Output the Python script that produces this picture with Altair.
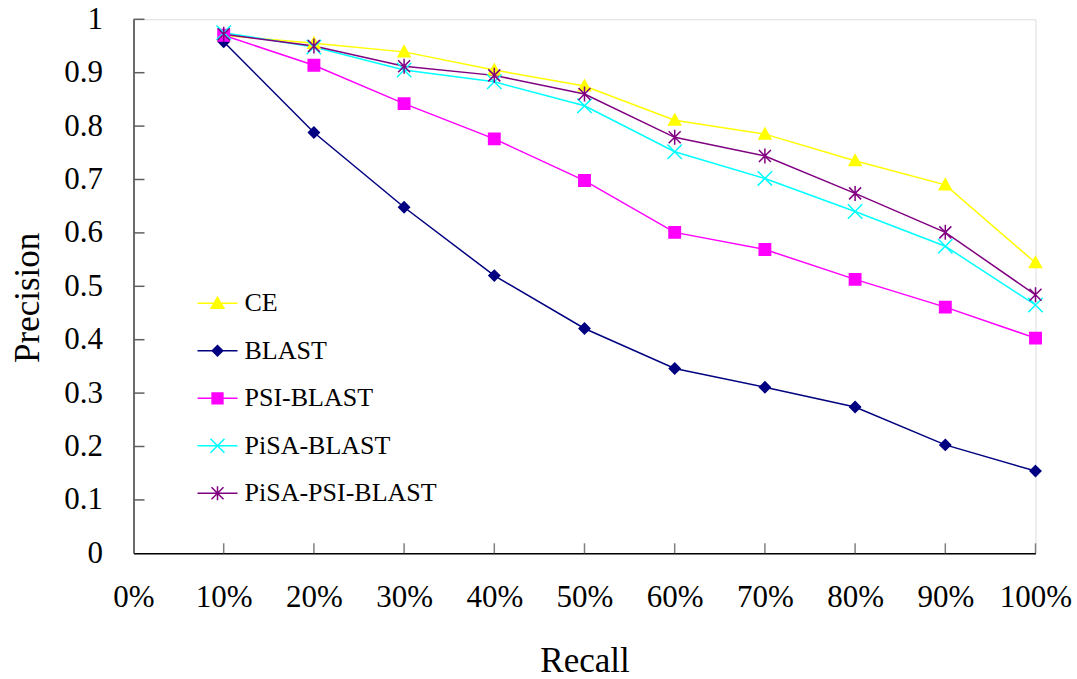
import altair as alt
import pandas as pd

recall = [0.1, 0.2, 0.3, 0.4, 0.5, 0.6, 0.7, 0.8, 0.9, 1.0]
series = ["CE", "BLAST", "PSI-BLAST", "PiSA-BLAST", "PiSA-PSI-BLAST"]

ce = [0.970, 0.955, 0.939, 0.905, 0.875, 0.811, 0.785, 0.735, 0.690, 0.544]
blast = [0.958, 0.788, 0.648, 0.520, 0.421, 0.346, 0.311, 0.274, 0.203, 0.154]
psi_blast = [0.970, 0.914, 0.842, 0.776, 0.698, 0.601, 0.569, 0.513, 0.461, 0.403]
pisa_blast = [0.975, 0.948, 0.905, 0.883, 0.838, 0.752, 0.702, 0.640, 0.575, 0.465]
pisa_psi_blast = [0.972, 0.950, 0.912, 0.895, 0.860, 0.779, 0.744, 0.674, 0.601, 0.484]

x_ticks = [0.1, 0.2, 0.3, 0.4, 0.5, 0.6, 0.7, 0.8, 0.9, 1.0]
x_labels = [0.0, 0.1, 0.2, 0.3, 0.4, 0.5, 0.6, 0.7, 0.8, 0.9, 1.0]
y_ticks = [0.1, 0.2, 0.3, 0.4, 0.5, 0.6, 0.7, 0.8, 0.9, 1.0]
y_labels = [0.0, 0.1, 0.2, 0.3, 0.4, 0.5, 0.6, 0.7, 0.8, 0.9, 1.0]

colors = ["#FFFF00", "#000080", "#FF00FF", "#00FFFF", "#800080"]

plot_shapes = [
    "M0,-1L1,0.8L-1,0.8Z",
    "M0,-0.9L0.9,0L0,0.9L-0.9,0Z",
    "M-0.95,-0.95H0.95V0.95H-0.95Z",
    "M-1.2,-1.2L1.2,1.2M-1.2,1.2L1.2,-1.2",
    "M-1,-1L1,1M-1,1L1,-1M0,-1.25V1.25",
]
legend_shapes = [
    "M-1,0H1M0,-0.3L0.32,0.25L-0.32,0.25Z",
    "M-1,0H1M0,-0.26L0.26,0L0,0.26L-0.26,0Z",
    "M-1,0H1M-0.27,-0.27H0.27V0.27H-0.27Z",
    "M-1,0H1M-0.35,-0.35L0.35,0.35M-0.35,0.35L0.35,-0.35",
    "M-1,0H1M-0.3,-0.3L0.3,0.3M-0.3,0.3L0.3,-0.3M0,-0.35V0.35",
]

rows = []
for name, vals in zip(series, [ce, blast, psi_blast, pisa_blast, pisa_psi_blast]):
    for r, v in zip(recall, vals):
        rows.append({"Recall": r, "Precision": v, "Method": name})
df = pd.DataFrame(rows)

FONT = "Liberation Serif"
W, H = 902, 534

xscale = alt.Scale(domain=[0, 1], nice=False, zero=False)
yscale = alt.Scale(domain=[0, 1], nice=False, zero=False)
cscale = alt.Scale(domain=series, range=colors)

x_axis = alt.Axis(
    values=x_labels, format=".0%", tickSize=0, grid=False, labelOverlap=False,
    labelFlush=False,
    domainColor="#000000", domainWidth=1.5,
    labelFont=FONT, labelFontSize=31, labelColor="#000000", labelPadding=29,
    title="Recall", titleFont=FONT, titleFontSize=35, titleFontWeight="normal",
    titleColor="#000000", titleBaseline="alphabetic", titleY=118,
)
y_axis = alt.Axis(
    values=y_labels, format=".1~f", tickSize=0, grid=False, labelOverlap=False,
    labelFlush=False,
    domainColor="#404040", domainWidth=1.5,
    labelFont=FONT, labelFontSize=31, labelColor="#000000", labelPadding=31,
    title="Precision", titleFont=FONT, titleFontSize=35, titleFontWeight="normal",
    titleColor="#000000", titleBaseline="alphabetic", titleX=-95, titleY=278,
)


def X(field):
    return alt.X(field, scale=xscale, axis=x_axis)


def Y(field):
    return alt.Y(field, scale=yscale, axis=y_axis)


base = alt.Chart(df)

leg = alt.Legend(
    orient="none", legendX=63, legendY=263, title=None, padding=0,
    symbolSize=1600, symbolStrokeWidth=1.5, rowPadding=13.5, labelOffset=6,
    labelFont=FONT, labelFontSize=26, labelColor="#000000", labelLimit=400,
)
legend_layer = (
    base.transform_filter("false")
    .mark_point(filled=False, strokeWidth=1.5, opacity=1)
    .encode(
        x=X("Recall:Q"),
        y=Y("Precision:Q"),
        shape=alt.Shape("Method:N", scale=alt.Scale(domain=series, range=legend_shapes), legend=leg),
        stroke=alt.Stroke("Method:N", scale=cscale, legend=leg),
        fill=alt.Fill("Method:N", scale=cscale, legend=leg),
    )
)

line_layers = []
point_layers = []
for name, col, shp in zip(series, colors, plot_shapes):
    sub = base.transform_filter(alt.datum.Method == name)
    line_layers.append(
        sub.mark_line(strokeWidth=1.5, color=col).encode(x=X("Recall:Q"), y=Y("Precision:Q"))
    )
    point_layers.append(
        sub.mark_point(shape=shp, size=144, filled=True, fill=col, stroke=col,
                       strokeWidth=1.5, opacity=1)
        .encode(x=X("Recall:Q"), y=Y("Precision:Q"))
    )

xt = alt.Chart(pd.DataFrame({"v": x_ticks})).mark_rule(color="#808080", strokeWidth=1.5).encode(
    x=X("v:Q"), y=alt.value(H), y2=alt.value(H - 10)
)
yt = alt.Chart(pd.DataFrame({"v": y_ticks})).mark_rule(color="#606060", strokeWidth=1.5).encode(
    y=Y("v:Q"), x=alt.value(0), x2=alt.value(11)
)

chart = alt.layer(legend_layer, xt, yt, *line_layers, *point_layers).properties(
    width=W, height=H,
    autosize=alt.AutoSizeParams(type="none"),
    padding={"left": 133.5, "top": 19.3, "right": 41.5, "bottom": 125.7},
).configure_view(strokeWidth=0).configure(background="white")

chart.save("out.html", embed_options={"renderer": "svg", "actions": False})
